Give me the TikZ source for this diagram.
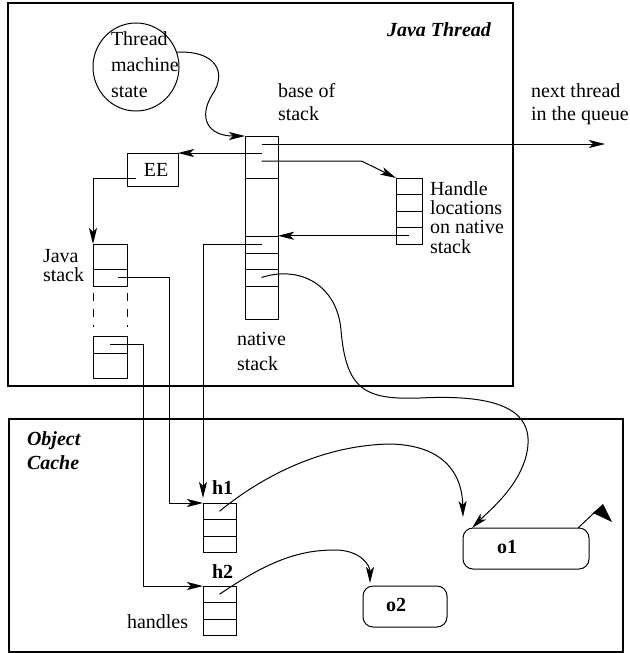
\documentclass[tikz,border=0pt]{standalone}
\usepackage{fontspec}
\setmainfont{Liberation Serif}
\usetikzlibrary{arrows.meta,positioning,shapes.geometric}

\begin{document}
\begin{tikzpicture}[
    x=0.5pt, y=-0.5pt, line width=0.5pt,
    every node/.style={inner sep=0pt, outer sep=0pt, font=\fontsize{10}{12}\selectfont},
    lskip/.style={font=\fontsize{10}{#1}\selectfont},
    txt/.style={anchor=base west, align=left},
    frame/.style={draw=black, line width=0.6pt},
    cell/.style={rectangle, draw=black, anchor=north west, minimum width=#1},
    cell/.default=16.5pt,
    obj/.style={rectangle, rounded corners=5pt, draw=black, anchor=north west, minimum height=20.5pt},
    flow/.style={-{Stealth[length=8pt, width=4pt, inset=2pt]}}
]
\useasboundingbox (0,0) rectangle (629,653);
% the two frames
\draw[frame] (8,3) rectangle (513,386);
\draw[frame] (9,419) rectangle (623,652);
\node[txt, font=\bfseries\itshape] (jtlbl) at (387,36) {Java Thread};
\node[txt, font=\bfseries\itshape\fontsize{10}{12}\selectfont] (oclbl) at (27,469) {Object\\Cache};

% thread state and EE
\node[ellipse, draw, minimum width=43pt, minimum height=44pt] (tms) at (136,67) {};
\node[txt, lskip=12.75pt] (tmslbl) at (111,97) {Thread\\machine\\state};
\node[rectangle, draw, minimum width=25.5pt, minimum height=16.5pt, anchor=north west] (ee) at (127,153) {\hspace{3.5pt}EE};

% native stack
\node[cell, minimum height=21pt] (ns1) at (245,136) {};
\node[cell, minimum height=29pt, below=0pt of ns1] (ns2) {};
\node[cell, minimum height=8.5pt, below=0pt of ns2] (ns3) {};
\node[cell, minimum height=8pt, below=0pt of ns3] (ns4) {};
\node[cell, minimum height=8.5pt, below=0pt of ns4] (ns5) {};
\node[cell, minimum height=16.5pt, below=0pt of ns5] (ns6) {};
\node[txt, lskip=11.5pt] (baselbl) at (278,120) {base of\\stack};
\node[txt, lskip=12.5pt] (nslbl) at (237,370) {native\\stack};

% handle locations
\node[cell=13pt, minimum height=8.25pt] (hs1) at (396,178) {};
\node[cell=13pt, minimum height=8.25pt, below=0pt of hs1] (hs2) {};
\node[cell=13pt, minimum height=8.25pt, below=0pt of hs2] (hs3) {};
\node[cell=13pt, minimum height=8.25pt, below=0pt of hs3] (hs4) {};
\node[txt, lskip=9.65pt] (hslbl) at (430,253) {Handle\\locations\\on native\\stack};

% java stack
\node[cell=17pt, minimum height=12.5pt] (js1) at (93,244) {};
\node[cell=17pt, minimum height=8.5pt, below=0pt of js1] (js2) {};
\node[cell=17pt, minimum height=8.5pt] (jb1) at (93,336) {};
\node[cell=17pt, minimum height=12.5pt, below=0pt of jb1] (jb2) {};
\draw[dashed, dash pattern=on 4pt off 4pt, shorten <=3.5pt, shorten >=4.5pt] (js2.south west) -- (jb1.north west);
\draw[dashed, dash pattern=on 4pt off 4pt, shorten <=3.5pt, shorten >=4.5pt] (js2.south east) -- (jb1.north east);
\node[txt, lskip=9.5pt] (jslbl) at (43,281) {Java\\stack};

\node[txt, lskip=11.5pt] (nextlbl) at (531,120) {next thread\\in the queue};
\coordinate (nextq) at (605,144);

% handles in the object cache
\node[cell, minimum height=8.25pt] (h1a) at (203,503) {};
\node[cell, minimum height=8.25pt, below=0pt of h1a] (h1b) {};
\node[cell, minimum height=8.25pt, below=0pt of h1b] (h1c) {};
\node[cell, minimum height=8.25pt] (h2a) at (203,586) {};
\node[cell, minimum height=8.25pt, below=0pt of h2a] (h2b) {};
\node[cell, minimum height=8.25pt, below=0pt of h2b] (h2c) {};
\node[txt, font=\bfseries] (h1lbl) at (212,494) {h1};
\node[txt, font=\bfseries] (h2lbl) at (212,578) {h2};
\node[txt] (hdllbl) at (127,628) {handles};

% objects
\node[obj, minimum width=63pt] (o1) at (463,528) {};
\node[obj, minimum width=42pt] (o2) at (363,586) {};
\node[txt, font=\bfseries] (o1lbl) at (497,553) {o1};
\node[txt, font=\bfseries] (o2lbl) at (386,611) {o2};
\draw ([xshift=-5.5pt]o1.north east) -- (596,511);
\fill (603,504) -- (612,522) -- (593,513) -- cycle;

% connectors
\draw[flow] (tms.20) .. controls (215,50) and (228,72) .. (212,95) .. controls (198,118) and (208,136) .. (ns1.north west);
\draw[flow] ([yshift=6.5pt]ns1.center) -- (nextq);
\draw[flow] ([yshift=2pt]ns1.center) -- (ee.north east);
\draw[flow] ([yshift=-2pt]ns1.center) -- ++(50pt,0) -- (hs1.north west);
\draw[flow] (hs4.center) -- (hs4.center -| ns3.east);
\draw[flow] ([xshift=-8.5pt,yshift=-4.25pt]ee.center) -| (js1.north west);
\draw[flow, shorten >=2.5pt] (ns3.center) -| (h1a.north west);
\draw[flow] ([xshift=4pt]js2.center) -- ++(25.5pt,0) |- (h1a.north west);
\draw[flow] (jb1.center) -- ++(16.5pt,0) |- (h2a.north west);
\draw[flow] (ns5.center) .. controls (300,265) and (337,285) .. (341,330) .. controls (346,390) and (365,400) .. (420,398)
    .. controls (500,394) and (540,410) .. (525,460) .. controls (515,490) and (490,510) .. ([xshift=4.5pt]o1.north west);
\draw[flow] (h1a.center) .. controls (270,470) and (330,445) .. (390,444) .. controls (440,445) and (462,470) .. ([yshift=5.5pt]o1.north west);
\draw[flow] (h2a.center) .. controls (270,560) and (300,550) .. (335,550) .. controls (360,550) and (370,565) .. ([xshift=3.5pt,yshift=1.5pt]o2.north west);
\end{tikzpicture}
\end{document}
